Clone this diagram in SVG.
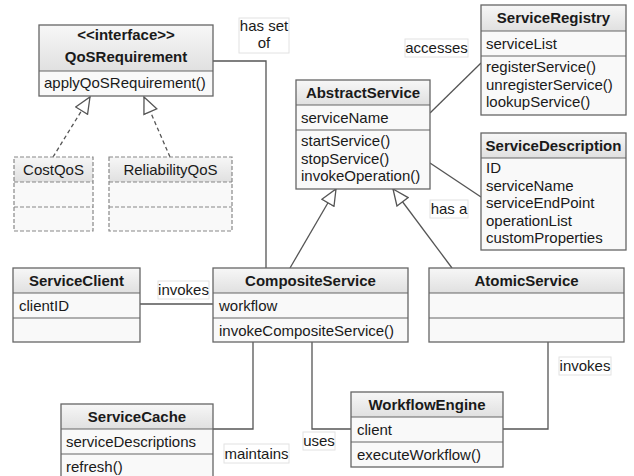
<svg xmlns="http://www.w3.org/2000/svg" width="634" height="476" viewBox="0 0 634 476">
<style>
text{font-family:"Liberation Sans",Arial,Helvetica,sans-serif;font-size:15px;fill:#1a1a1a}
.b{font-weight:bold}
.c{text-anchor:middle}
.body{fill:#f9f9f9;stroke:none}
.hdr{fill:url(#g);stroke:none}
.bd{fill:none;stroke:#666;stroke-width:1.3}
.dbd{fill:none;stroke:#888;stroke-width:1.2;stroke-dasharray:4,2}
.dv{stroke:#666;stroke-width:1.2}
.ddv{stroke:#888;stroke-width:1.2;stroke-dasharray:4,2}
.ln{fill:none;stroke:#555;stroke-width:1.3}
.dl{fill:none;stroke:#555;stroke-width:1.3;stroke-dasharray:4,3}
.lbl{fill:#fff;stroke:#e2e2e2;stroke-width:1}
</style>
<defs>
<linearGradient id="g" x1="0" y1="0" x2="0" y2="1">
<stop offset="0" stop-color="#f7f7f7"/>
<stop offset="1" stop-color="#e0e0e0"/>
</linearGradient>
<marker id="tri" viewBox="0 0 18 16" refX="17" refY="8" markerWidth="18" markerHeight="16" markerUnits="userSpaceOnUse" orient="auto">
<path d="M1,1 L17,8 L1,15 Z" fill="#fff" stroke="#555" stroke-width="1.3"/>
</marker>
</defs>
<rect width="634" height="476" fill="#fff"/>

<g id="connectors">
<polyline class="ln" points="213,61 266,61 266,268"/>
<line class="dl" x1="53" y1="157" x2="90" y2="97" marker-end="url(#tri)"/>
<line class="dl" x1="170" y1="157" x2="144" y2="97" marker-end="url(#tri)"/>
<line class="ln" x1="290" y1="268" x2="336" y2="189" marker-end="url(#tri)"/>
<line class="ln" x1="452" y1="268" x2="393" y2="189" marker-end="url(#tri)"/>
<line class="ln" x1="430" y1="113" x2="481" y2="63"/>
<line class="ln" x1="430" y1="163" x2="481" y2="197"/>
<line class="ln" x1="140" y1="304" x2="213" y2="304"/>
<polyline class="ln" points="253,342 253,429 213,429"/>
<polyline class="ln" points="312,342 312,429 351,429"/>
<polyline class="ln" points="548,342 548,429 503,429"/>
<rect class="lbl" x="239" y="18" width="50" height="35"/>
<text class="c" x="264" y="31">has set</text>
<text class="c" x="264" y="48">of</text>
<rect class="lbl" x="405" y="39" width="63" height="18"/>
<text class="c" x="436.5" y="53">accesses</text>
<rect class="lbl" x="430" y="200" width="38" height="18"/>
<text class="c" x="449" y="214">has a</text>
<rect class="lbl" x="158" y="281" width="51" height="18"/>
<text class="c" x="183.5" y="295">invokes</text>
<rect class="lbl" x="224" y="444" width="65" height="19"/>
<text class="c" x="256.5" y="459">maintains</text>
<rect class="lbl" x="303" y="432" width="32" height="18"/>
<text class="c" x="319" y="446">uses</text>
<rect class="lbl" x="559" y="357" width="52" height="18"/>
<text class="c" x="585" y="371">invokes</text>
</g>

<g id="QoSRequirement">
<rect class="body" x="39" y="25" width="174" height="71"/>
<rect class="hdr" x="39" y="25" width="174" height="46"/>
<line class="dv" x1="39" y1="71" x2="213" y2="71"/>
<rect class="bd" x="39" y="25" width="174" height="71"/>
<text class="b c" x="126" y="40">&lt;&lt;interface&gt;&gt;</text>
<text class="b c" x="126" y="62">QoSRequirement</text>
<text x="44" y="88">applyQoSRequirement()</text>
</g>

<g id="CostQoS">
<rect class="body" x="14" y="157" width="79" height="74"/>
<rect class="hdr" x="14" y="157" width="79" height="25"/>
<line class="ddv" x1="14" y1="182" x2="93" y2="182"/>
<line class="ddv" x1="14" y1="207" x2="93" y2="207"/>
<rect class="dbd" x="14" y="157" width="79" height="74"/>
<text class="c" x="53.5" y="175">CostQoS</text>
</g>

<g id="ReliabilityQoS">
<rect class="body" x="109" y="157" width="123" height="74"/>
<rect class="hdr" x="109" y="157" width="123" height="25"/>
<line class="ddv" x1="109" y1="182" x2="232" y2="182"/>
<line class="ddv" x1="109" y1="207" x2="232" y2="207"/>
<rect class="dbd" x="109" y="157" width="123" height="74"/>
<text class="c" x="170.5" y="175">ReliabilityQoS</text>
</g>

<g id="AbstractService">
<rect class="body" x="296" y="80" width="134" height="109"/>
<rect class="hdr" x="296" y="80" width="134" height="25"/>
<line class="dv" x1="296" y1="105" x2="430" y2="105"/>
<line class="dv" x1="296" y1="130" x2="430" y2="130"/>
<rect class="bd" x="296" y="80" width="134" height="109"/>
<text class="b c" x="363" y="98">AbstractService</text>
<text x="301" y="123">serviceName</text>
<text x="301" y="146">startService()</text>
<text x="301" y="163.5">stopService()</text>
<text x="301" y="181">invokeOperation()</text>
</g>

<g id="ServiceRegistry">
<rect class="body" x="481" y="5" width="145" height="110"/>
<rect class="hdr" x="481" y="5" width="145" height="26"/>
<line class="dv" x1="481" y1="31" x2="626" y2="31"/>
<line class="dv" x1="481" y1="56" x2="626" y2="56"/>
<rect class="bd" x="481" y="5" width="145" height="110"/>
<text class="b c" x="553.5" y="23">ServiceRegistry</text>
<text x="486" y="49">serviceList</text>
<text x="486" y="72">registerService()</text>
<text x="486" y="89.5">unregisterService()</text>
<text x="486" y="107">lookupService()</text>
</g>

<g id="ServiceDescription">
<rect class="body" x="481" y="133" width="145" height="117"/>
<rect class="hdr" x="481" y="133" width="145" height="25"/>
<line class="dv" x1="481" y1="158" x2="626" y2="158"/>
<rect class="bd" x="481" y="133" width="145" height="117"/>
<text class="b c" x="553.5" y="151">ServiceDescription</text>
<text x="486" y="173">ID</text>
<text x="486" y="190.5">serviceName</text>
<text x="486" y="208">serviceEndPoint</text>
<text x="486" y="225.5">operationList</text>
<text x="486" y="243">customProperties</text>
</g>

<g id="ServiceClient">
<rect class="body" x="13" y="268" width="127" height="74"/>
<rect class="hdr" x="13" y="268" width="127" height="25"/>
<line class="dv" x1="13" y1="293" x2="140" y2="293"/>
<line class="dv" x1="13" y1="318" x2="140" y2="318"/>
<rect class="bd" x="13" y="268" width="127" height="74"/>
<text class="b c" x="76.5" y="286">ServiceClient</text>
<text x="19" y="311">clientID</text>
</g>

<g id="CompositeService">
<rect class="body" x="213" y="268" width="195" height="74"/>
<rect class="hdr" x="213" y="268" width="195" height="25"/>
<line class="dv" x1="213" y1="293" x2="408" y2="293"/>
<line class="dv" x1="213" y1="318" x2="408" y2="318"/>
<rect class="bd" x="213" y="268" width="195" height="74"/>
<text class="b c" x="310.5" y="286">CompositeService</text>
<text x="219" y="311">workflow</text>
<text x="219" y="336">invokeCompositeService()</text>
</g>

<g id="AtomicService">
<rect class="body" x="429" y="268" width="195" height="74"/>
<rect class="hdr" x="429" y="268" width="195" height="25"/>
<line class="dv" x1="429" y1="293" x2="624" y2="293"/>
<line class="dv" x1="429" y1="318" x2="624" y2="318"/>
<rect class="bd" x="429" y="268" width="195" height="74"/>
<text class="b c" x="526.5" y="286">AtomicService</text>
</g>

<g id="WorkflowEngine">
<rect class="body" x="351" y="392" width="152" height="75"/>
<rect class="hdr" x="351" y="392" width="152" height="25"/>
<line class="dv" x1="351" y1="417" x2="503" y2="417"/>
<line class="dv" x1="351" y1="442" x2="503" y2="442"/>
<rect class="bd" x="351" y="392" width="152" height="75"/>
<text class="b c" x="427" y="410">WorkflowEngine</text>
<text x="357" y="435">client</text>
<text x="357" y="460">executeWorkflow()</text>
</g>

<g id="ServiceCache">
<rect class="body" x="61" y="404" width="152" height="80"/>
<rect class="hdr" x="61" y="404" width="152" height="25"/>
<line class="dv" x1="61" y1="429" x2="213" y2="429"/>
<line class="dv" x1="61" y1="454" x2="213" y2="454"/>
<rect class="bd" x="61" y="404" width="152" height="80"/>
<text class="b c" x="137" y="422">ServiceCache</text>
<text x="66" y="447">serviceDescriptions</text>
<text x="66" y="472">refresh()</text>
</g>
</svg>
